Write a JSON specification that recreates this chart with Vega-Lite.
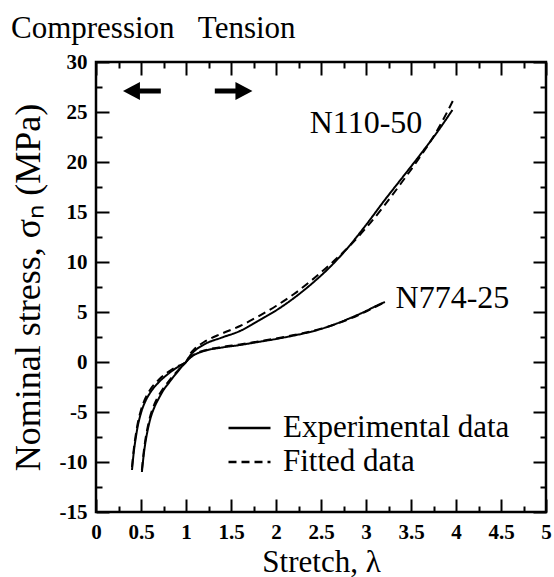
{
  "$schema": "https://vega.github.io/schema/vega-lite/v6.json",
  "width": 450,
  "height": 450,
  "autosize": {"type": "none"},
  "padding": {"left": 96, "top": 62, "right": 8, "bottom": 65},
  "background": "white",
  "config": {
    "view": {"stroke": "black", "strokeWidth": 2.5},
    "font": "Liberation Serif",
    "axis": {"grid": false, "domain": false, "tickColor": "black", "tickWidth": 2, "labelColor": "black", "titleColor": "black"}
  },
  "title": {"text": "Compression\u00a0\u00a0\u00a0Tension", "anchor": "start", "frame": "group", "font": "Liberation Serif", "fontSize": 31, "fontWeight": "normal", "color": "black", "dx": -85, "dy": 41, "offset": 23, "baseline": "alphabetic"},
  "datasets": {
    "curves": [
      {"m": "N110-50", "t": "Experimental data", "x": 0.51, "y": -11.0},
      {"m": "N110-50", "t": "Experimental data", "x": 0.53, "y": -9.3},
      {"m": "N110-50", "t": "Experimental data", "x": 0.55, "y": -8.0},
      {"m": "N110-50", "t": "Experimental data", "x": 0.57, "y": -7.0},
      {"m": "N110-50", "t": "Experimental data", "x": 0.60, "y": -5.8},
      {"m": "N110-50", "t": "Experimental data", "x": 0.65, "y": -4.5},
      {"m": "N110-50", "t": "Experimental data", "x": 0.70, "y": -3.6},
      {"m": "N110-50", "t": "Experimental data", "x": 0.75, "y": -2.8},
      {"m": "N110-50", "t": "Experimental data", "x": 0.80, "y": -2.2},
      {"m": "N110-50", "t": "Experimental data", "x": 0.85, "y": -1.6},
      {"m": "N110-50", "t": "Experimental data", "x": 0.90, "y": -1.05},
      {"m": "N110-50", "t": "Experimental data", "x": 0.95, "y": -0.5},
      {"m": "N110-50", "t": "Experimental data", "x": 1.0, "y": 0},
      {"m": "N110-50", "t": "Experimental data", "x": 1.05, "y": 0.7},
      {"m": "N110-50", "t": "Experimental data", "x": 1.1, "y": 1.15},
      {"m": "N110-50", "t": "Experimental data", "x": 1.2, "y": 1.75},
      {"m": "N110-50", "t": "Experimental data", "x": 1.4, "y": 2.45},
      {"m": "N110-50", "t": "Experimental data", "x": 1.6, "y": 3.1},
      {"m": "N110-50", "t": "Experimental data", "x": 1.8, "y": 4.1},
      {"m": "N110-50", "t": "Experimental data", "x": 2.0, "y": 5.15},
      {"m": "N110-50", "t": "Experimental data", "x": 2.2, "y": 6.4},
      {"m": "N110-50", "t": "Experimental data", "x": 2.4, "y": 7.85},
      {"m": "N110-50", "t": "Experimental data", "x": 2.6, "y": 9.5},
      {"m": "N110-50", "t": "Experimental data", "x": 2.8, "y": 11.45},
      {"m": "N110-50", "t": "Experimental data", "x": 3.0, "y": 13.7},
      {"m": "N110-50", "t": "Experimental data", "x": 3.2, "y": 16.1},
      {"m": "N110-50", "t": "Experimental data", "x": 3.4, "y": 18.4},
      {"m": "N110-50", "t": "Experimental data", "x": 3.6, "y": 20.7},
      {"m": "N110-50", "t": "Experimental data", "x": 3.8, "y": 23.1},
      {"m": "N110-50", "t": "Experimental data", "x": 3.96, "y": 25.2},
      {"m": "N110-50", "t": "Fitted data", "x": 0.51, "y": -10.8},
      {"m": "N110-50", "t": "Fitted data", "x": 0.53, "y": -9.0},
      {"m": "N110-50", "t": "Fitted data", "x": 0.55, "y": -7.7},
      {"m": "N110-50", "t": "Fitted data", "x": 0.57, "y": -6.7},
      {"m": "N110-50", "t": "Fitted data", "x": 0.60, "y": -5.5},
      {"m": "N110-50", "t": "Fitted data", "x": 0.65, "y": -4.2},
      {"m": "N110-50", "t": "Fitted data", "x": 0.70, "y": -3.3},
      {"m": "N110-50", "t": "Fitted data", "x": 0.75, "y": -2.6},
      {"m": "N110-50", "t": "Fitted data", "x": 0.80, "y": -2.0},
      {"m": "N110-50", "t": "Fitted data", "x": 0.85, "y": -1.45},
      {"m": "N110-50", "t": "Fitted data", "x": 0.90, "y": -0.95},
      {"m": "N110-50", "t": "Fitted data", "x": 0.95, "y": -0.45},
      {"m": "N110-50", "t": "Fitted data", "x": 1.0, "y": 0},
      {"m": "N110-50", "t": "Fitted data", "x": 1.05, "y": 0.85},
      {"m": "N110-50", "t": "Fitted data", "x": 1.1, "y": 1.35},
      {"m": "N110-50", "t": "Fitted data", "x": 1.2, "y": 2.0},
      {"m": "N110-50", "t": "Fitted data", "x": 1.4, "y": 2.85},
      {"m": "N110-50", "t": "Fitted data", "x": 1.6, "y": 3.6},
      {"m": "N110-50", "t": "Fitted data", "x": 1.8, "y": 4.55},
      {"m": "N110-50", "t": "Fitted data", "x": 2.0, "y": 5.6},
      {"m": "N110-50", "t": "Fitted data", "x": 2.2, "y": 6.8},
      {"m": "N110-50", "t": "Fitted data", "x": 2.4, "y": 8.2},
      {"m": "N110-50", "t": "Fitted data", "x": 2.6, "y": 9.75},
      {"m": "N110-50", "t": "Fitted data", "x": 2.8, "y": 11.45},
      {"m": "N110-50", "t": "Fitted data", "x": 3.0, "y": 13.4},
      {"m": "N110-50", "t": "Fitted data", "x": 3.2, "y": 15.6},
      {"m": "N110-50", "t": "Fitted data", "x": 3.4, "y": 18.0},
      {"m": "N110-50", "t": "Fitted data", "x": 3.6, "y": 20.5},
      {"m": "N110-50", "t": "Fitted data", "x": 3.8, "y": 23.3},
      {"m": "N110-50", "t": "Fitted data", "x": 3.97, "y": 26.2},
      {"m": "N774-25", "t": "Experimental data", "x": 0.40, "y": -10.8},
      {"m": "N774-25", "t": "Experimental data", "x": 0.42, "y": -9.0},
      {"m": "N774-25", "t": "Experimental data", "x": 0.44, "y": -7.7},
      {"m": "N774-25", "t": "Experimental data", "x": 0.46, "y": -6.6},
      {"m": "N774-25", "t": "Experimental data", "x": 0.50, "y": -5.1},
      {"m": "N774-25", "t": "Experimental data", "x": 0.55, "y": -3.9},
      {"m": "N774-25", "t": "Experimental data", "x": 0.60, "y": -3.1},
      {"m": "N774-25", "t": "Experimental data", "x": 0.70, "y": -2.0},
      {"m": "N774-25", "t": "Experimental data", "x": 0.80, "y": -1.2},
      {"m": "N774-25", "t": "Experimental data", "x": 0.90, "y": -0.55},
      {"m": "N774-25", "t": "Experimental data", "x": 1.0, "y": 0},
      {"m": "N774-25", "t": "Experimental data", "x": 1.05, "y": 0.45},
      {"m": "N774-25", "t": "Experimental data", "x": 1.1, "y": 0.75},
      {"m": "N774-25", "t": "Experimental data", "x": 1.2, "y": 1.1},
      {"m": "N774-25", "t": "Experimental data", "x": 1.4, "y": 1.45},
      {"m": "N774-25", "t": "Experimental data", "x": 1.6, "y": 1.7},
      {"m": "N774-25", "t": "Experimental data", "x": 1.8, "y": 2.0},
      {"m": "N774-25", "t": "Experimental data", "x": 2.0, "y": 2.3},
      {"m": "N774-25", "t": "Experimental data", "x": 2.2, "y": 2.65},
      {"m": "N774-25", "t": "Experimental data", "x": 2.4, "y": 3.05},
      {"m": "N774-25", "t": "Experimental data", "x": 2.6, "y": 3.6},
      {"m": "N774-25", "t": "Experimental data", "x": 2.8, "y": 4.3},
      {"m": "N774-25", "t": "Experimental data", "x": 3.0, "y": 5.1},
      {"m": "N774-25", "t": "Experimental data", "x": 3.1, "y": 5.55},
      {"m": "N774-25", "t": "Experimental data", "x": 3.21, "y": 6.0},
      {"m": "N774-25", "t": "Fitted data", "x": 0.40, "y": -10.5},
      {"m": "N774-25", "t": "Fitted data", "x": 0.42, "y": -8.7},
      {"m": "N774-25", "t": "Fitted data", "x": 0.44, "y": -7.4},
      {"m": "N774-25", "t": "Fitted data", "x": 0.46, "y": -6.3},
      {"m": "N774-25", "t": "Fitted data", "x": 0.50, "y": -4.8},
      {"m": "N774-25", "t": "Fitted data", "x": 0.55, "y": -3.6},
      {"m": "N774-25", "t": "Fitted data", "x": 0.60, "y": -2.8},
      {"m": "N774-25", "t": "Fitted data", "x": 0.70, "y": -1.75},
      {"m": "N774-25", "t": "Fitted data", "x": 0.80, "y": -1.0},
      {"m": "N774-25", "t": "Fitted data", "x": 0.90, "y": -0.45},
      {"m": "N774-25", "t": "Fitted data", "x": 1.0, "y": 0},
      {"m": "N774-25", "t": "Fitted data", "x": 1.05, "y": 0.5},
      {"m": "N774-25", "t": "Fitted data", "x": 1.1, "y": 0.8},
      {"m": "N774-25", "t": "Fitted data", "x": 1.2, "y": 1.15},
      {"m": "N774-25", "t": "Fitted data", "x": 1.4, "y": 1.5},
      {"m": "N774-25", "t": "Fitted data", "x": 1.6, "y": 1.75},
      {"m": "N774-25", "t": "Fitted data", "x": 1.8, "y": 2.05},
      {"m": "N774-25", "t": "Fitted data", "x": 2.0, "y": 2.35},
      {"m": "N774-25", "t": "Fitted data", "x": 2.2, "y": 2.7},
      {"m": "N774-25", "t": "Fitted data", "x": 2.4, "y": 3.1},
      {"m": "N774-25", "t": "Fitted data", "x": 2.6, "y": 3.6},
      {"m": "N774-25", "t": "Fitted data", "x": 2.8, "y": 4.25},
      {"m": "N774-25", "t": "Fitted data", "x": 3.0, "y": 5.05},
      {"m": "N774-25", "t": "Fitted data", "x": 3.1, "y": 5.5},
      {"m": "N774-25", "t": "Fitted data", "x": 3.2, "y": 5.95}
    ],
    "arrows": [
      {"dir": "left", "x": 0.72, "x2": 0.48, "hx": 0.394, "y": 27.1},
      {"dir": "right", "x": 1.32, "x2": 1.56, "hx": 1.644, "y": 27.1}
    ],
    "labels": [
      {"label": "N110-50", "x": 3.0, "y": 23.9},
      {"label": "N774-25", "x": 3.96, "y": 6.45}
    ]
  },
  "resolve": {"axis": {"x": "independent", "y": "independent"}},
  "layer": [
    {
      "data": {"name": "curves"},
      "mark": {"type": "line", "strokeWidth": 2, "color": "black", "interpolate": "monotone"},
      "encoding": {
        "x": {"field": "x", "type": "quantitative", "scale": {"domain": [0, 5], "nice": false, "zero": false},
          "axis": {"orient": "bottom", "values": [0, 0.5, 1, 1.5, 2, 2.5, 3, 3.5, 4, 4.5, 5], "labelExpr": "'' + datum.value", "ticks": false, "labelPadding": 9, "labelFont": "Liberation Serif", "labelFontSize": 21, "labelFontWeight": "bold", "labelBaseline": "top", "labelFlush": false, "labelOverlap": false,
            "title": "Stretch, λ", "titleFont": "Liberation Serif", "titleFontSize": 31, "titleFontWeight": "normal", "titleBaseline": "alphabetic", "titleY": 59, "titleX": 225, "titleAnchor": "middle"}},
        "y": {"field": "y", "type": "quantitative", "scale": {"domain": [-15, 30], "nice": false, "zero": false},
          "axis": {"orient": "left", "values": [-15, -10, -5, 0, 5, 10, 15, 20, 25, 30], "labelExpr": "'' + datum.value", "ticks": false, "labelPadding": 9, "labelFont": "Liberation Serif", "labelFontSize": 21, "labelFontWeight": "bold", "labelBaseline": "middle", "labelFlush": false, "labelOverlap": false,
            "title": "Nominal stress, σₙ (MPa)", "titleFont": "Liberation Serif", "titleFontSize": 36, "titleFontWeight": "normal", "titleBaseline": "alphabetic", "titleX": -57, "titleY": 225, "titleAngle": 270, "titleAnchor": "middle"}},
        "strokeDash": {"field": "t", "type": "nominal", "scale": {"domain": ["Experimental data", "Fitted data"], "range": [[1, 0], [8, 5]]},
          "legend": {"orient": "none", "legendX": 131, "legendY": 349, "title": null, "padding": 0, "symbolType": "stroke", "symbolSize": 1764, "symbolStrokeWidth": 2.5, "symbolStrokeColor": "black", "labelFont": "Liberation Serif", "labelFontSize": 31, "labelColor": "black", "labelOffset": 11, "labelLimit": 0, "rowPadding": 0, "clipHeight": 34, "symbolOffset": 0}},
        "detail": {"field": "m"}
      }
    },
    {
      "data": {"name": "curves"},
      "mark": {"type": "point", "opacity": 0},
      "encoding": {
        "x": {"field": "x", "type": "quantitative", "axis": {"orient": "bottom", "values": [0, 0.5, 1, 1.5, 2, 2.5, 3, 3.5, 4, 4.5, 5], "labels": false, "title": null, "tickSize": -13}},
        "y": {"field": "y", "type": "quantitative", "axis": {"orient": "left", "values": [-15, -10, -5, 0, 5, 10, 15, 20, 25, 30], "labels": false, "title": null, "tickSize": -13}}
      }
    },
    {
      "data": {"name": "curves"},
      "mark": {"type": "point", "opacity": 0},
      "encoding": {
        "x": {"field": "x", "type": "quantitative", "axis": {"orient": "top", "values": [0, 0.5, 1, 1.5, 2, 2.5, 3, 3.5, 4, 4.5, 5], "labels": false, "title": null, "tickSize": -13}},
        "y": {"field": "y", "type": "quantitative", "axis": {"orient": "right", "values": [-15, -10, -5, 0, 5, 10, 15, 20, 25, 30], "labels": false, "title": null, "tickSize": -13}}
      }
    },
    {
      "data": {"name": "curves"},
      "mark": {"type": "point", "opacity": 0},
      "encoding": {
        "x": {"field": "x", "type": "quantitative", "axis": {"orient": "bottom", "values": [0.25, 0.75, 1.25, 1.75, 2.25, 2.75, 3.25, 3.75, 4.25, 4.75], "labels": false, "title": null, "tickSize": -6}},
        "y": {"field": "y", "type": "quantitative", "axis": {"orient": "left", "values": [-12.5, -7.5, -2.5, 2.5, 7.5, 12.5, 17.5, 22.5, 27.5], "labels": false, "title": null, "tickSize": -6}}
      }
    },
    {
      "data": {"name": "curves"},
      "mark": {"type": "point", "opacity": 0},
      "encoding": {
        "x": {"field": "x", "type": "quantitative", "axis": {"orient": "top", "values": [0.25, 0.75, 1.25, 1.75, 2.25, 2.75, 3.25, 3.75, 4.25, 4.75], "labels": false, "title": null, "tickSize": -6}},
        "y": {"field": "y", "type": "quantitative", "axis": {"orient": "right", "values": [-12.5, -7.5, -2.5, 2.5, 7.5, 12.5, 17.5, 22.5, 27.5], "labels": false, "title": null, "tickSize": -6}}
      }
    },
    {
      "mark": {"type": "rule", "strokeWidth": 2, "color": "black"},
      "encoding": {"x": {"datum": 1, "type": "quantitative", "axis": null}}
    },
    {
      "mark": {"type": "rule", "strokeWidth": 2, "color": "black"},
      "encoding": {"y": {"datum": 0, "type": "quantitative", "axis": null}}
    },
    {
      "data": {"name": "arrows"},
      "mark": {"type": "rule", "strokeWidth": 5, "color": "black"},
      "encoding": {
        "x": {"field": "x", "type": "quantitative", "axis": null},
        "x2": {"field": "x2"},
        "y": {"field": "y", "type": "quantitative", "axis": null}
      }
    },
    {
      "data": {"name": "arrows"},
      "transform": [{"filter": "datum.dir == 'left'"}],
      "mark": {"type": "point", "shape": "M1,-1.06L-1,0L1,1.06Z", "filled": true, "opacity": 1, "color": "black", "size": 289},
      "encoding": {
        "x": {"field": "hx", "type": "quantitative", "axis": null},
        "y": {"field": "y", "type": "quantitative", "axis": null}
      }
    },
    {
      "data": {"name": "arrows"},
      "transform": [{"filter": "datum.dir == 'right'"}],
      "mark": {"type": "point", "shape": "M-1,-1.06L1,0L-1,1.06Z", "filled": true, "opacity": 1, "color": "black", "size": 289},
      "encoding": {
        "x": {"field": "hx", "type": "quantitative", "axis": null},
        "y": {"field": "y", "type": "quantitative", "axis": null}
      }
    },
    {
      "data": {"name": "labels"},
      "mark": {"type": "text", "font": "Liberation Serif", "fontSize": 32, "color": "black", "align": "center", "baseline": "middle"},
      "encoding": {
        "x": {"field": "x", "type": "quantitative", "axis": null},
        "y": {"field": "y", "type": "quantitative", "axis": null},
        "text": {"field": "label"}
      }
    }
  ]
}
